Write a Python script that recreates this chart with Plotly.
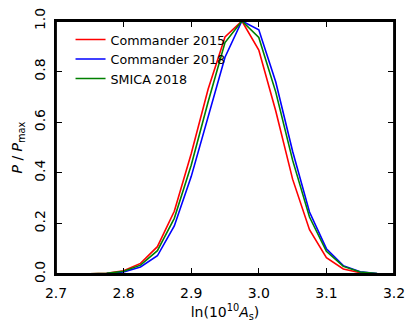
import plotly.graph_objects as go

x_vals = [2.75, 2.775, 2.8, 2.825, 2.85, 2.875, 2.9, 2.925, 2.95, 2.975,
          3.0, 3.025, 3.05, 3.075, 3.1, 3.125, 3.15, 3.175]

commander_2015 = [0.001, 0.003, 0.013, 0.042, 0.108, 0.248, 0.475, 0.73, 0.937, 1.0,
                  0.885, 0.645, 0.375, 0.175, 0.065, 0.02, 0.005, 0.001]
commander_2018 = [0.0005, 0.002, 0.008, 0.028, 0.072, 0.19, 0.385, 0.62, 0.857, 1.0,
                  0.965, 0.76, 0.485, 0.245, 0.10, 0.033, 0.009, 0.002]
smica_2018 = [0.0007, 0.0025, 0.011, 0.035, 0.092, 0.22, 0.43, 0.68, 0.915, 1.0,
              0.935, 0.72, 0.45, 0.225, 0.09, 0.03, 0.008, 0.002]

series = [
    ("Commander 2015", commander_2015, "#ff0000"),
    ("Commander 2018", commander_2018, "#0000ff"),
    ("SMICA 2018", smica_2018, "#008000"),
]

x_ticks = [2.7, 2.8, 2.9, 3.0, 3.1, 3.2]
y_ticks = [0.0, 0.2, 0.4, 0.6, 0.8, 1.0]

fig = go.Figure()
for name, vals, color in series:
    fig.add_trace(go.Scatter(x=x_vals, y=vals, mode="lines", name=name,
                             line=dict(color=color, width=1.6)))

font = dict(family="DejaVu Sans", size=14, color="black")
axis_common = dict(showgrid=False, zeroline=False, showline=True, linecolor="black",
                   linewidth=1.5, mirror="allticks", ticks="inside", ticklen=6,
                   tickwidth=1, tickcolor="black", tickfont=font, tickformat=".1f",
                   automargin=False)

fig.update_layout(
    width=415, height=331,
    margin=dict(l=56, r=21, t=21, b=57),
    paper_bgcolor="white", plot_bgcolor="white",
    font=font,
    showlegend=True,
    legend=dict(x=0.043, y=0.985, xanchor="left", yanchor="top",
                bgcolor="rgba(0,0,0,0)", borderwidth=0,
                font=dict(family="DejaVu Sans", size=12.7, color="black"),
                tracegroupgap=0),
    xaxis=dict(range=[2.7, 3.2], tickvals=x_ticks, ticklabelstandoff=5,
               title=dict(text="ln(10<sup>10</sup><i>A</i><sub>s</sub>)", standoff=8,
                          font=font),
               **axis_common),
    yaxis=dict(range=[0, 1], tickvals=y_ticks, tickangle=-90, ticklabelstandoff=4,
               title=dict(text="<i>P</i> / <i>P</i><sub>max</sub>", standoff=6, font=font),
               **axis_common),
    shapes=[dict(type="rect", xref="paper", yref="paper", x0=0, x1=1, y0=0, y1=1,
                 line=dict(color="black", width=1.8), fillcolor="rgba(0,0,0,0)",
                 layer="above")],
)

# remove the default 8px page margin so the figure fills the window exactly
fig.write_html("out.html", config={"displayModeBar": False},
               post_script="document.body.style.margin='0';document.body.style.overflow='hidden';")
